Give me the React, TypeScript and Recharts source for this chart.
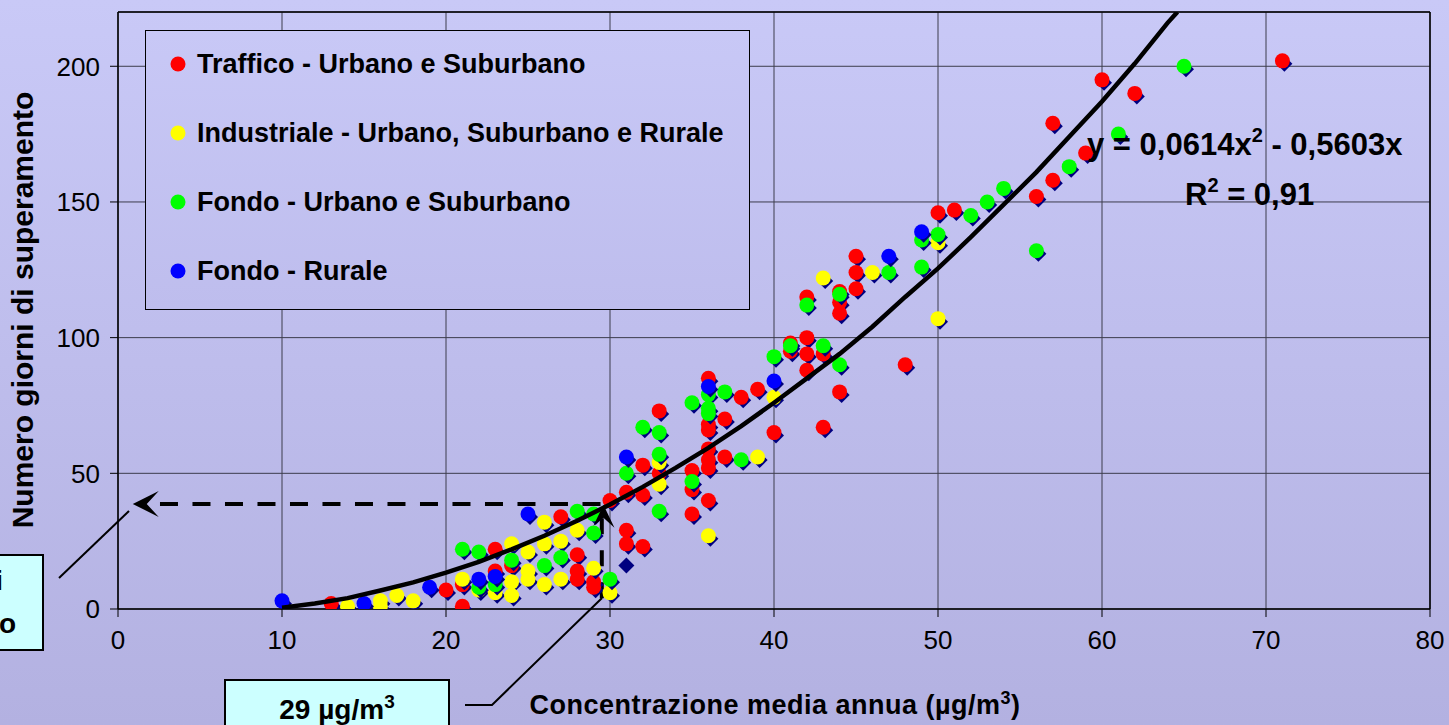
import {
    ScatterChart,
    Scatter,
    XAxis,
    YAxis,
    CartesianGrid,
    ReferenceLine,
    ReferenceDot,
    Legend
} from "recharts";

const FONT = '"Liberation Sans", Arial, sans-serif';

const xTicks = [0, 10, 20, 30, 40, 50, 60, 70, 80];
const yTicks = [0, 50, 100, 150, 200];

// [concentrazione, giorni]
const traffico: [number, number][] = [
    [13, 2], [20, 7], [21, 1], [21, 9], [23, 22], [23, 14], [24, 16], [27, 34], [28, 20], [28, 14],
    [28, 11], [29, 10], [29, 8], [30, 40], [31, 43], [31, 29], [31, 24], [32, 53], [32, 42], [32, 23],
    [33, 73], [33, 50], [35, 51], [35, 44], [35, 35], [36, 85], [36, 68], [36, 66], [36, 59], [36, 55],
    [36, 52], [36, 40], [37, 70], [37, 56], [38, 78], [39, 81], [40, 65], [41, 98], [41, 95], [42, 115],
    [42, 100], [42, 94], [42, 88], [43, 94], [43, 67], [44, 117], [44, 113], [44, 109], [44, 80], [45, 130],
    [45, 124], [45, 118], [48, 90], [50, 146], [51, 147], [56, 152], [57, 158], [57, 179], [59, 168], [60, 195],
    [62, 190], [71, 202]
];
const industriale: [number, number][] = [
    [14, 1], [16, 3], [16, 1], [17, 5], [18, 3], [21, 11], [22, 7], [23, 6], [24, 24], [24, 10],
    [24, 5], [25, 21], [25, 14], [25, 11], [26, 32], [26, 24], [26, 9], [27, 25], [27, 11], [28, 29],
    [29, 15], [30, 6], [33, 54], [33, 46], [36, 27], [39, 56], [40, 78], [43, 122], [46, 124], [50, 135],
    [50, 107]
];
const fondoUrbano: [number, number][] = [
    [21, 22], [22, 21], [22, 8], [23, 9], [24, 18], [26, 16], [27, 19], [28, 36], [29, 35], [29, 28],
    [30, 11], [31, 50], [32, 67], [33, 65], [33, 57], [33, 36], [35, 76], [35, 47], [36, 79], [36, 74],
    [36, 72], [37, 80], [38, 55], [40, 93], [41, 97], [42, 112], [43, 97], [44, 116], [44, 90], [47, 124],
    [49, 136], [49, 126], [50, 138], [52, 145], [53, 150], [54, 155], [56, 132], [58, 163], [61, 175], [65, 200]
];
const fondoRurale: [number, number][] = [
    [10, 3], [15, 2], [19, 8], [22, 11], [23, 12], [25, 35], [31, 56], [36, 82], [40, 84], [47, 130], [49, 139]
];
const loneDiamond: [number, number][] = [[31, 16]];

// trend line
const trendX = [10, 12, 14, 16, 18, 20, 22, 24, 26, 28, 30, 32, 34, 36, 38, 40, 42, 44, 46, 48, 50, 52, 54, 56, 58, 60, 62, 64, 64.6];
const trendY = [0.5, 2, 4, 6.8, 9.8, 13.4, 17.4, 22, 27, 32.5, 38.5, 45, 52, 59.4, 67.4, 76, 85, 94, 104, 115, 125.5, 137, 149, 161, 174, 187, 201, 216, 220];

const series = [
    { name: "Traffico - Urbano e Suburbano", color: "#FF0000", data: traffico },
    { name: "Industriale - Urbano, Suburbano e Rurale", color: "#FFFF00", data: industriale },
    { name: "Fondo - Urbano e Suburbano", color: "#00FF00", data: fondoUrbano },
    { name: "Fondo - Rurale", color: "#0000FF", data: fondoRurale }
];

const toPoints = (arr: [number, number][]) => arr.map(([x, y]) => ({ x, y }));
const trend = trendX.map((x, i) => ({ x, y: trendY[i] }));

const diamondPath = (x: number, y: number, s: number) =>
    `M${x},${y - s}L${x + s},${y}L${x},${y + s}L${x - s},${y}Z`;

const makeDot = (color: string) => (props: any) => {
    const { cx, cy } = props;
    if (cx == null || cy == null) return <g />;
    return (
        <g>
            <path d={diamondPath(cx + 2, cy + 3, 8)} fill="#000080" />
            <circle cx={cx} cy={cy} r={7.5} fill={color} />
        </g>
    );
};

const navyDiamond = (props: any) => {
    const { cx, cy } = props;
    if (cx == null || cy == null) return <g />;
    return <path d={diamondPath(cx, cy, 8)} fill="#000080" />;
};

const leftArrow = (props: any) => {
    const { cx, cy } = props;
    return <path d={`M${cx},${cy}L${cx + 26},${cy - 13}L${cx + 14},${cy}L${cx + 26},${cy + 13}Z`} fill="#000" />;
};

const upArrow = (props: any) => {
    const { cx, cy } = props;
    return <path d={`M${cx},${cy}L${cx + 11},${cy + 23}L${cx},${cy + 13}L${cx - 10},${cy + 21}Z`} fill="#000" />;
};

function LegendBox() {
    return (
        <div
            style={{
                width: 605,
                height: 280,
                boxSizing: "border-box",
                border: "1.5px solid #000",
                background: "linear-gradient(180deg, #C8C8F6 0%, #BEBDED 100%)",
                position: "relative"
            }}
        >
            {series.map((s, i) => (
                <div
                    key={s.name}
                    style={{ position: "absolute", left: 24, top: 33 + i * 69 - 17, height: 34, display: "flex", alignItems: "center" }}
                >
                    <svg width={16} height={16}>
                        <circle cx={8} cy={8} r={7.5} fill={s.color} />
                    </svg>
                    <span style={{ marginLeft: 11, fontFamily: FONT, fontWeight: "bold", fontSize: 27, color: "#000", whiteSpace: "nowrap" }}>
                        {s.name}
                    </span>
                </div>
            ))}
        </div>
    );
}

export default function App() {
    return (
        <div
            style={{
                position: "fixed",
                left: 0,
                top: 0,
                width: 1449,
                height: 725,
                overflow: "hidden",
                background: "linear-gradient(180deg, #C9C9F7 0%, #B3B1E1 100%)"
            }}
        >
            <ScatterChart width={1449} height={725} margin={{ top: 12, right: 19, left: 0, bottom: 56 }}>
                <CartesianGrid stroke="#3c3c4c" strokeWidth={1} />
                <XAxis
                    type="number"
                    dataKey="x"
                    domain={[0, 80]}
                    ticks={xTicks}
                    interval={0}
                    height={60}
                    tickSize={8}
                    tickMargin={14}
                    axisLine={{ stroke: "#000", strokeWidth: 1.5 }}
                    tickLine={{ stroke: "#000" }}
                    tick={{ fill: "#000", fontSize: 26, fontFamily: FONT }}
                    allowDataOverflow
                />
                <YAxis
                    type="number"
                    dataKey="y"
                    domain={[0, 220]}
                    ticks={yTicks}
                    interval={0}
                    width={118}
                    tickSize={8}
                    tickMargin={10}
                    axisLine={{ stroke: "#000", strokeWidth: 1.5 }}
                    tickLine={{ stroke: "#000" }}
                    tick={{ fill: "#000", fontSize: 26, fontFamily: FONT }}
                    allowDataOverflow
                />
                <ReferenceLine y={220} stroke="#000" strokeWidth={1.5} />
                <ReferenceLine x={80} stroke="#000" strokeWidth={1.5} />
                <Legend
                    layout="horizontal"
                    verticalAlign="middle"
                    align="center"
                    content={() => <LegendBox />}
                    wrapperStyle={{ position: "absolute", left: 145, top: 30, width: 605, height: 280 }}
                />
                {series.map((s) => (
                    <Scatter
                        key={s.name}
                        name={s.name}
                        data={toPoints(s.data)}
                        fill={s.color}
                        shape={makeDot(s.color)}
                        isAnimationActive={false}
                    />
                ))}
                <Scatter data={toPoints(loneDiamond)} legendType="none" fill="#000080" shape={navyDiamond} isAnimationActive={false} />
                <Scatter
                    data={trend}
                    legendType="none"
                    fill="#000"
                    line={{ stroke: "#000", strokeWidth: 4.5 }}
                    shape={() => <g />}
                    isAnimationActive={false}
                />
                <ReferenceLine
                    segment={[{ x: 2.56, y: 38.7 }, { x: 29.6, y: 38.7 }]}
                    stroke="#000"
                    strokeWidth={4}
                    strokeDasharray="18 14.5"
                />
                <ReferenceLine
                    segment={[{ x: 29.5, y: 4 }, { x: 29.5, y: 35 }]}
                    stroke="#000"
                    strokeWidth={4}
                    strokeDasharray="16 16"
                />
                <ReferenceDot x={0.9} y={38.7} r={1} shape={leftArrow} ifOverflow="visible" />
                <ReferenceDot x={29.6} y={38.4} r={1} shape={upArrow} ifOverflow="visible" />
            </ScatterChart>

            <svg width={1449} height={725} style={{ position: "absolute", left: 0, top: 0, pointerEvents: "none" }}>
                <text
                    x={33}
                    y={310}
                    transform="rotate(-90 33 310)"
                    textAnchor="middle"
                    fontFamily={FONT}
                    fontWeight="bold"
                    fontSize={30}
                    fill="#000"
                >
                    Numero giorni di superamento
                </text>
                <text x={775} y={714} textAnchor="middle" fontFamily={FONT} fontWeight="bold" fontSize={27} letterSpacing={0.5} fill="#000">
                    Concentrazione media annua (µg/m<tspan dy={-10} fontSize={18}>3</tspan><tspan dy={10}>)</tspan>
                </text>

                <text x={1087} y={155} fontFamily={FONT} fontWeight="bold" fontSize={31} fill="#000">
                    y = 0,0614x<tspan dy={-13} fontSize={20}>2</tspan><tspan dy={13}> - 0,5603x</tspan>
                </text>
                <text x={1185} y={205} fontFamily={FONT} fontWeight="bold" fontSize={31} fill="#000">
                    R<tspan dy={-13} fontSize={20}>2</tspan><tspan dy={13}> = 0,91</tspan>
                </text>

                <rect x={-200} y={555} width={243} height={95} fill="#CCFFFF" stroke="#000" strokeWidth={2} />
                <text x={3} y={590} textAnchor="end" fontFamily={FONT} fontWeight="bold" fontSize={28} fill="#000">39 giorni di</text>
                <text x={16} y={633} textAnchor="end" fontFamily={FONT} fontWeight="bold" fontSize={28} fill="#000">superamento</text>
                <line x1={59} y1={578} x2={129} y2={511} stroke="#000" strokeWidth={2} />

                <rect x={225} y={680} width={224} height={70} fill="#CCFFFF" stroke="#000" strokeWidth={2} />
                <text x={337} y={719} textAnchor="middle" fontFamily={FONT} fontWeight="bold" fontSize={28} fill="#000">
                    29 µg/m<tspan dy={-11} fontSize={19}>3</tspan>
                </text>
                <polyline points="465,705 492,705 602,598" fill="none" stroke="#000" strokeWidth={2} />
            </svg>
        </div>
    );
}
